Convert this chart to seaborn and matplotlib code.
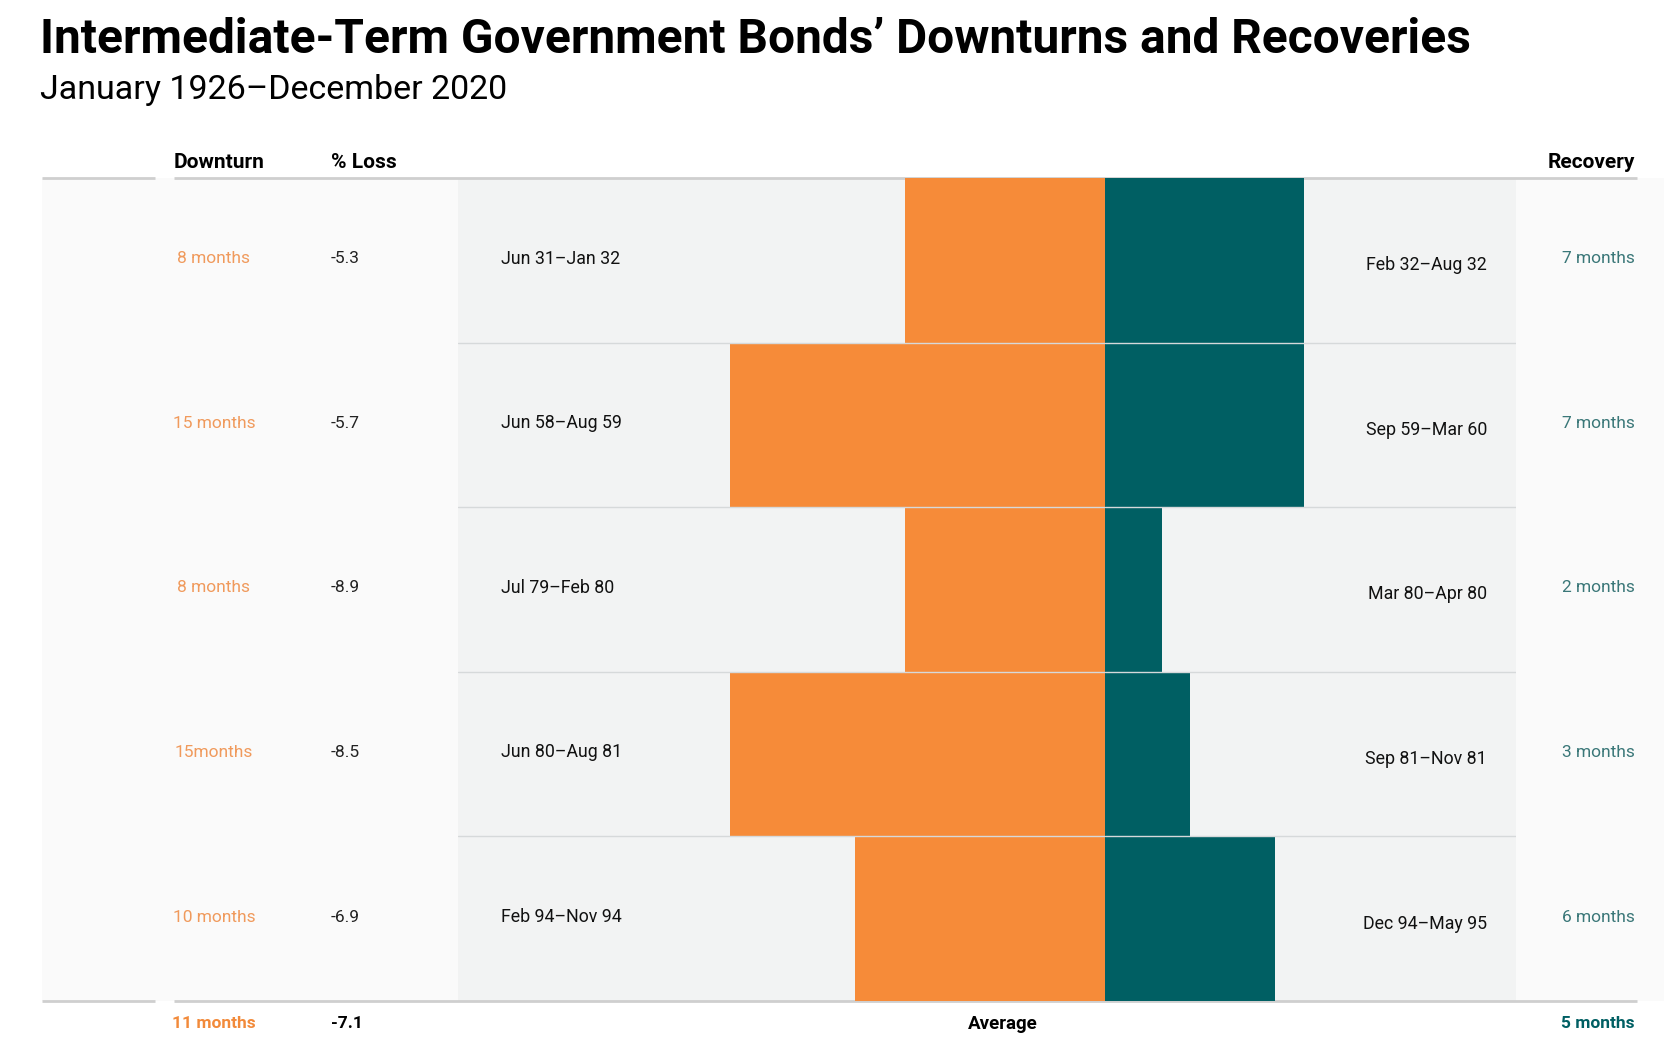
import numpy as np
import pandas as pd
import matplotlib
matplotlib.use('Agg')
import matplotlib.pyplot as plt
import seaborn as sns
from matplotlib.patches import Rectangle
from matplotlib.transforms import blended_transform_factory

# Data
downturn_months = [8, 15, 8, 15, 10]
downturn_labels = ['8 months', '15 months', '8 months', '15months', '10 months']
pct_loss = ['-5.3', '-5.7', '-8.9', '-8.5', '-6.9']
downturn_dates = ['Jun 31–Jan 32', 'Jun 58–Aug 59', 'Jul 79–Feb 80', 'Jun 80–Aug 81', 'Feb 94–Nov 94']
recovery_months = [7, 7, 2, 3, 6]
recovery_labels = ['7 months', '7 months', '2 months', '3 months', '6 months']
recovery_dates = ['Feb 32–Aug 32', 'Sep 59–Mar 60', 'Mar 80–Apr 80', 'Sep 81–Nov 81', 'Dec 94–May 95']
avg_downturn = '11 months'
avg_loss = '-7.1'
avg_recovery = '5 months'

ORANGE = '#f68b39'
TEAL = '#005f63'

sns.set_style('white')
plt.rcParams['font.family'] = ['Roboto', 'DejaVu Sans']
plt.rcParams['text.color'] = 'black'

W, H = 1665, 1064
fig = plt.figure(figsize=(W / 100, H / 100), dpi=100)

# background layer in pixel coordinates
bg = fig.add_axes([0, 0, 1, 1], zorder=0)
bg.set_xlim(0, W)
bg.set_ylim(H, 0)
bg.axis('off')

top, bottom = 178, 1001
left_in, center, right_in = 458, 1105, 1516
bg.add_patch(Rectangle((42, top), W - 42, bottom - top, color='#fafafa', lw=0))
bg.add_patch(Rectangle((left_in, top), right_in - left_in, bottom - top, color='#f2f3f3', lw=0))
for y in (top, bottom):
    bg.plot([42, 155], [y, y], color='#cfcfcf', lw=2, solid_capstyle='butt')
    bg.plot([174, 1637], [y, y], color='#cfcfcf', lw=2, solid_capstyle='butt')

df = pd.DataFrame({'period': downturn_dates,
                   'down': -np.array(downturn_months),
                   'rec': recovery_months})

axL = fig.add_axes([left_in / W, 1 - bottom / H, (center - left_in) / W, (bottom - top) / H], zorder=1)
axR = fig.add_axes([center / W, 1 - bottom / H, (right_in - center) / W, (bottom - top) / H], zorder=1)
for ax in (axL, axR):
    ax.patch.set_alpha(0)

sns.barplot(data=df, x='down', y='period', orient='h', color=ORANGE, saturation=1,
            width=1, ax=axL, edgecolor='none')
sns.barplot(data=df, x='rec', y='period', orient='h', color=TEAL, saturation=1,
            width=1, ax=axR, edgecolor='none')
axL.set_xlim(-25.9, 0)
axR.set_xlim(0, 14.47)
for ax in (axL, axR):
    ax.set_ylim(len(df) - 0.5, -0.5)
    for b in np.arange(0.5, len(df) - 0.5):
        ax.axhline(b, color='#d6d9da', lw=1, zorder=5)
    ax.axis('off')

# texts: x in pixels, y in row units
tr = blended_transform_factory(bg.transData, axL.transData)
for i in range(len(df)):
    bg.text(214, i - 0.01, downturn_labels[i], transform=tr, ha='center', va='center',
            fontsize=12.5, color='#f09a5c')
    bg.text(331, i - 0.01, pct_loss[i], transform=tr, ha='left', va='center',
            fontsize=12.5, color='#222222')
    bg.text(501, i - 0.01, downturn_dates[i], transform=tr, ha='left', va='center',
            fontsize=12.8, color='#111111')
    bg.text(1487, i + 0.03, recovery_dates[i], transform=tr, ha='right', va='center',
            fontsize=12.8, color='#111111')
    bg.text(1635, i - 0.01, recovery_labels[i], transform=tr, ha='right', va='center',
            fontsize=12.5, color='#3a7778')

# header
bg.text(174, 163, 'Downturn', ha='left', va='center', fontsize=15, fontweight='bold')
bg.text(331, 163, '% Loss', ha='left', va='center', fontsize=15, fontweight='bold')
bg.text(1635, 163, 'Recovery', ha='right', va='center', fontsize=15, fontweight='bold')

# average row
bg.text(214, 1024, avg_downturn, ha='center', va='center', fontsize=12.5,
        fontweight='bold', color='#f28a3a')
bg.text(331, 1024, avg_loss, ha='left', va='center', fontsize=12.5, fontweight='bold')
bg.text(1003, 1024, 'Average', ha='center', va='center', fontsize=13.5, fontweight='bold')
bg.text(1635, 1024, avg_recovery, ha='right', va='center', fontsize=12.5,
        fontweight='bold', color=TEAL)

# titles
bg.text(40, 53, 'Intermediate-Term Government Bonds’ Downturns and Recoveries',
        ha='left', va='baseline', fontsize=34.5, fontweight='bold')
bg.text(40, 99, 'January 1926–December 2020', ha='left', va='baseline', fontsize=24.5)

fig.savefig('out.png', dpi=100)
